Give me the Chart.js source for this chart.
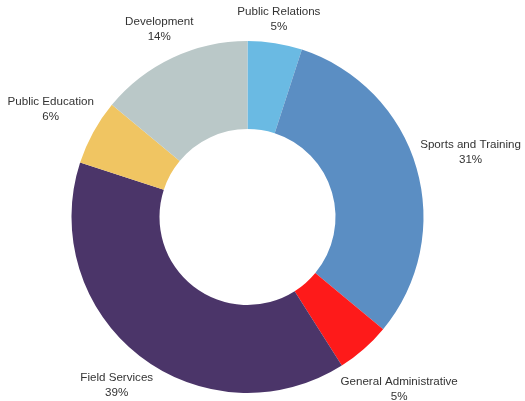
<!DOCTYPE html>
<html>
<head>
<meta charset="utf-8">
<script src="https://cdn.jsdelivr.net/npm/chart.js@4/dist/chart.umd.min.js"></script>
<style>
  html, body { margin: 0; padding: 0; background: #fff; }
  #wrap { width: 525px; height: 401px; }
</style>
</head>
<body>
<div id="wrap"><canvas id="chart"></canvas></div>
<script>
"use strict";

const categories = [
  "Public Relations",
  "Sports and Training",
  "General Administrative",
  "Field Services",
  "Public Education",
  "Development"
];
const shares = [5, 31, 5, 39, 6, 14];
const sliceColors = ["#6abae3", "#5b8ec3", "#fe1a1a", "#4b3569", "#f0c562", "#bac8c8"];

// Draws "name / xx%" outside each slice, pushed out along the slice's middle angle
const outsideLabels = {
  id: "outsideLabels",
  afterDatasetsDraw(chart) {
    const ctx = chart.ctx;
    const meta = chart.getDatasetMeta(0);
    const fontSize = 11.6;
    const lineH = 15;
    const gap = 4;
    ctx.save();
    ctx.font = fontSize + "px 'Liberation Sans', Arial, sans-serif";
    ctx.fillStyle = "#333333";
    ctx.textAlign = "center";
    ctx.textBaseline = "middle";
    meta.data.forEach((arc, i) => {
      const p = arc.getProps(["x", "y", "startAngle", "endAngle", "outerRadius"], true);
      const mid = (p.startAngle + p.endAngle) / 2;
      const dx = Math.cos(mid);
      const dy = Math.sin(mid);
      const line1 = categories[i];
      const line2 = shares[i] + "%";
      const w = Math.max(ctx.measureText(line1).width, ctx.measureText(line2).width);
      const h = lineH * 2 - 2;
      const extent = Math.abs(dx) * w / 2 + Math.abs(dy) * h / 2;
      const dist = p.outerRadius + gap + extent;
      const cx = p.x + dx * dist;
      const cy = p.y + dy * dist;
      ctx.fillText(line1, cx, cy - lineH / 2);
      ctx.fillText(line2, cx, cy + lineH / 2);
    });
    ctx.restore();
  }
};

new Chart(document.getElementById("chart").getContext("2d"), {
  type: "doughnut",
  data: {
    labels: categories,
    datasets: [
      {
        data: shares,
        backgroundColor: sliceColors,
        borderWidth: 0
      }
    ]
  },
  options: {
    responsive: true,
    maintainAspectRatio: false,
    animation: false,
    cutout: "50%",
    layout: {
      padding: { top: 41, bottom: 8, left: 71.5, right: 101.5 }
    },
    plugins: {
      legend: { display: false },
      tooltip: { enabled: false }
    }
  },
  plugins: [outsideLabels]
});
</script>
</body>
</html>
